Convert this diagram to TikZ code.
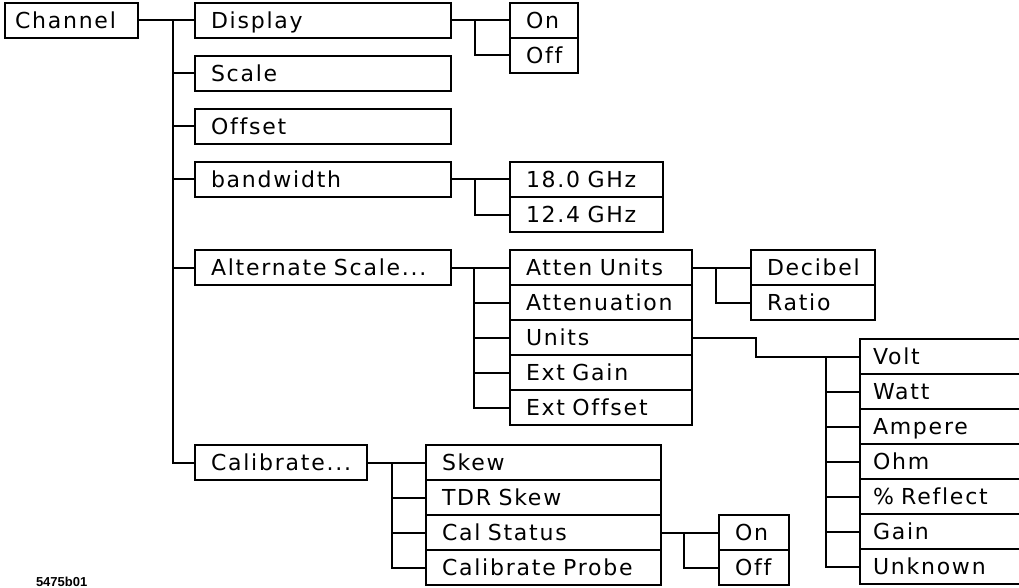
\documentclass[tikz,border=0pt]{standalone}
\usepackage{fontspec}
\setmainfont{DejaVu Sans}[LetterSpace=8, WordSpace=1.8, Ligatures=NoCommon]
\newfontfamily\fignumfont{Liberation Sans}
\usetikzlibrary{positioning}

\begin{document}
\begin{tikzpicture}[
    x=1pt, y=-1pt,
    font=\fontsize{22}{26}\selectfont,
    line width=2pt,
    menubox/.style={draw, anchor=north west, outer sep=0pt, inner ysep=0pt,
        inner xsep=16pt, minimum height=35pt, text height=16pt, text depth=0pt,
        align=left, text width=#1}
]

\useasboundingbox (0,0) rectangle (1019,588);

% ==========================================
% 1. MENU BOXES
% ==========================================

% Top level
\node[menubox=113pt, inner xsep=10pt] (chan) at (5,3) {Channel};

\node[menubox=224pt] (disp)  at (195,3)   {Display};
\node[menubox=224pt] (scale) at (195,56)  {Scale};
\node[menubox=224pt] (offs)  at (195,109) {Offset};
\node[menubox=224pt] (bw)    at (195,162) {bandwidth};
\node[menubox=224pt] (alt)   at (195,250) {Alternate Scale...};
\node[menubox=140pt] (calib) at (195,445) {Calibrate...};

% Display choices
\node[menubox=36pt] (don) at (510,3) {On};
\node[menubox=36pt, below=0pt of don.south west, anchor=north west] (doff) {Off};

% Bandwidth choices
\node[menubox=121pt] (g18) at (510,162) {18.0 GHz};
\node[menubox=121pt, below=0pt of g18.south west, anchor=north west] (g12) {12.4 GHz};

% Alternate scale menu
\node[menubox=150pt] (atu) at (510,250) {Atten Units};
\node[menubox=150pt, below=0pt of atu.south west, anchor=north west] (att) {Attenuation};
\node[menubox=150pt, below=0pt of att.south west, anchor=north west] (units) {Units};
\node[menubox=150pt, below=0pt of units.south west, anchor=north west] (extg) {Ext Gain};
\node[menubox=150pt, below=0pt of extg.south west, anchor=north west] (exto) {Ext Offset};

% Atten units choices
\node[menubox=92pt] (dec) at (751,250) {Decibel};
\node[menubox=92pt, below=0pt of dec.south west, anchor=north west] (ratio) {Ratio};

% Units choices
\node[menubox=144pt, inner xsep=13pt] (volt) at (860,339) {Volt};
\node[menubox=144pt, inner xsep=13pt, below=0pt of volt.south west, anchor=north west] (watt) {Watt};
\node[menubox=144pt, inner xsep=13pt, below=0pt of watt.south west, anchor=north west] (amp) {Ampere};
\node[menubox=144pt, inner xsep=13pt, below=0pt of amp.south west, anchor=north west] (ohm) {Ohm};
\node[menubox=144pt, inner xsep=13pt, below=0pt of ohm.south west, anchor=north west] (refl) {\% Reflect};
\node[menubox=144pt, inner xsep=13pt, below=0pt of refl.south west, anchor=north west] (gain) {Gain};
\node[menubox=144pt, inner xsep=13pt, below=0pt of gain.south west, anchor=north west] (unkn) {Unknown};

% Calibrate menu
\node[menubox=203pt] (skew) at (426,445) {Skew};
\node[menubox=203pt, below=0pt of skew.south west, anchor=north west] (tdr) {TDR Skew};
\node[menubox=203pt, below=0pt of tdr.south west, anchor=north west] (cals) {Cal Status};
\node[menubox=203pt, below=0pt of cals.south west, anchor=north west] (calp) {Calibrate Probe};

% Cal status choices
\node[menubox=38pt] (con) at (719,515) {On};
\node[menubox=38pt, below=0pt of con.south west, anchor=north west] (coff) {Off};

% ==========================================
% 2. CONNECTORS
% ==========================================

\coordinate (tr) at (173,0);
\coordinate (dv) at (475,0);
\coordinate (av) at (474,0);
\coordinate (rv) at (716,0);
\coordinate (uj) at (756,0);
\coordinate (uv) at (826,0);
\coordinate (kv) at (392,0);
\coordinate (sv) at (684,0);

% Channel trunk
\draw (chan.east) -- (chan.east -| disp.west);
\draw (tr |- chan.east) |- (calib.west);
\foreach \n in {scale,offs,bw,alt}
    \draw (tr |- \n.west) -- (\n.west);

% Display
\draw (disp.east) -- (don.west);
\draw (dv |- don.west) |- (doff.west);

% Bandwidth
\draw (bw.east) -- (g18.west);
\draw (dv |- g18.west) |- (g12.west);

% Alternate scale
\draw (alt.east) -- (atu.west);
\draw (av |- atu.west) |- (exto.west);
\foreach \n in {att,units,extg}
    \draw (av |- \n.west) -- (\n.west);

% Atten units
\draw (atu.east) -- (dec.west);
\draw (rv |- dec.west) |- (ratio.west);

% Units
\draw (units.east) -| (uj |- volt.west) -- (volt.west);
\draw (uv |- volt.west) |- (unkn.west);
\foreach \n in {watt,amp,ohm,refl,gain}
    \draw (uv |- \n.west) -- (\n.west);

% Calibrate
\draw (calib.east) -- (skew.west);
\draw (kv |- skew.west) |- (calp.west);
\foreach \n in {tdr,cals}
    \draw (kv |- \n.west) -- (\n.west);

% Cal status
\draw (cals.east) -- (con.west);
\draw (sv |- con.west) |- (coff.west);

% ==========================================
% 3. FIGURE NUMBER
% ==========================================

\node[anchor=north west, inner sep=0pt, font=\fignumfont\bfseries\fontsize{13}{14}\selectfont] (fignum) at (35,576) {5475b01};

\end{tikzpicture}
\end{document}
